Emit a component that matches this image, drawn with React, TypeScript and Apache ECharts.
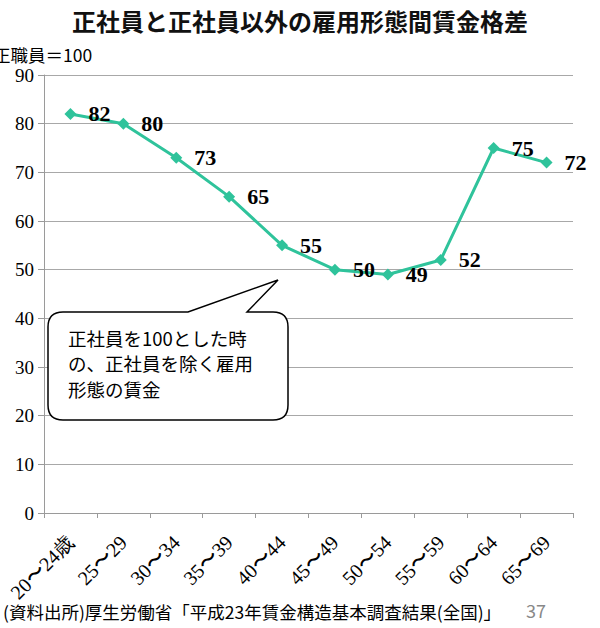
import React, { useEffect, useRef } from "react";
import * as echarts from "echarts";

const categories = ["20〜24歳", "25〜29", "30〜34", "35〜39", "40〜44", "45〜49", "50〜54", "55〜59", "60〜64", "65〜69"];
const values = [82, 80, 73, 65, 55, 50, 49, 52, 75, 72];
const titleText = "正社員と正社員以外の雇用形態間賃金格差";
const unitText = "正職員＝100";
const calloutLines = ["正社員を100とした時", "の、正社員を除く雇用", "形態の賃金"];
const sourceText = "(資料出所)厚生労働省「平成23年賃金構造基本調査結果(全国)」";
const pageNo = "37";

const calloutPath =
  "M 63 312 L 188 312 L 278 280 L 247 312 L 273 312 Q 288 312 288 327 L 288 405 Q 288 420 273 420 L 63 420 Q 48 420 48 405 L 48 327 Q 48 312 63 312 Z";

let registered = false;

export default function App() {
  const ref = useRef<HTMLDivElement>(null);
  useEffect(() => {
    if (!ref.current) return;
    if (!registered) {
      echarts.graphic.registerShape("callout", echarts.graphic.extendPath(calloutPath, {}) as any);
      registered = true;
    }
    const chart = echarts.init(ref.current, null, { renderer: "svg" });
    const serif = "'Liberation Serif', 'Times New Roman', serif";
    const sans = "'Noto Sans CJK JP', 'Noto Sans', sans-serif";
    chart.setOption({
      animation: false,
      backgroundColor: "#ffffff",
      title: {
        text: titleText,
        left: "center",
        top: 3,
        textStyle: { fontFamily: sans, fontSize: 24, fontWeight: "bold", color: "#111" },
      },
      grid: { left: 44, right: 27, top: 75, bottom: 115, containLabel: false },
      xAxis: {
        type: "category",
        data: categories,
        boundaryGap: true,
        axisLine: { show: true, lineStyle: { color: "#9a9a9a", width: 1 } },
        axisTick: { show: true, alignWithLabel: false, length: 5, lineStyle: { color: "#9a9a9a" } },
        axisLabel: {
          rotate: 45,
          interval: 0,
          margin: 26,
          fontFamily: serif,
          fontSize: 20,
          color: "#000",
        },
      },
      yAxis: {
        type: "value",
        min: 0,
        max: 90,
        interval: 10,
        axisLine: { show: true, lineStyle: { color: "#9a9a9a", width: 1 } },
        axisTick: { show: true, length: 6, lineStyle: { color: "#9a9a9a" } },
        splitLine: { show: true, lineStyle: { color: "#a8a8a8", width: 1 } },
        axisLabel: { fontFamily: serif, fontSize: 19, color: "#000", margin: 10 },
      },
      series: [
        {
          type: "line",
          data: values,
          symbol: "diamond",
          symbolSize: 12,
          lineStyle: { color: "#2fc39b", width: 3 },
          itemStyle: { color: "#2fc39b" },
          label: {
            show: true,
            position: "right",
            distance: 12,
            fontFamily: serif,
            fontSize: 22,
            fontWeight: "bold",
            color: "#000",
          },
        },
      ],
      graphic: [
        {
          type: "text",
          x: -7,
          y: 54,
          style: { text: unitText, fontFamily: sans, fontSize: 17.5, fill: "#000", textVerticalAlign: "middle" },
        },
        {
          type: "callout",
          x: 0,
          y: 0,
          z: 100,
          style: { fill: "#ffffff", stroke: "#000000", lineWidth: 1.5 },
        },
        {
          type: "text",
          x: 68,
          y: 325,
          z: 101,
          style: {
            text: calloutLines.join("\n"),
            fontFamily: sans,
            fontSize: 18.5,
            lineHeight: 25.5,
            fill: "#000",
          },
        },
        {
          type: "text",
          x: 3,
          y: 611,
          style: { text: sourceText, fontFamily: sans, fontSize: 17.5, fill: "#000", textVerticalAlign: "middle" },
        },
        {
          type: "text",
          x: 526,
          y: 610,
          style: { text: pageNo, fontFamily: sans, fontSize: 18, fill: "#888", textVerticalAlign: "middle" },
        },
      ],
    });
    return () => chart.dispose();
  }, []);
  return <div ref={ref} style={{ position: "fixed", left: 0, top: 0, width: 600, height: 628 }} />;
}
